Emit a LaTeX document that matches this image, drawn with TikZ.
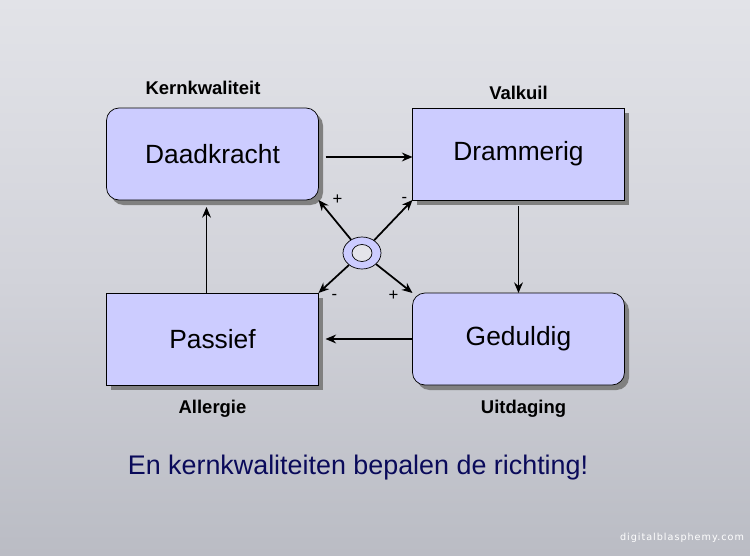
\documentclass[tikz,border=0pt]{standalone}
\usepackage{fontspec}
\setmainfont{Liberation Sans}
\newfontfamily\webfont[LetterSpace=10]{DejaVu Sans}
\usetikzlibrary{shapes.geometric, arrows.meta, positioning, shadows}

\definecolor{boxfill}{RGB}{204,204,255}
\definecolor{bgtop}{RGB}{226,227,232}
\definecolor{bgmid}{RGB}{210,211,218}
\definecolor{bgbot}{RGB}{186,188,196}
\definecolor{slogan}{RGB}{10,10,90}
\definecolor{hole}{RGB}{228,228,234}

\begin{document}
\begin{tikzpicture}[node distance=1.86cm and 1.88cm,
  quality/.style={rectangle, draw=black, fill=boxfill, minimum width=4.24cm, minimum height=1.84cm, outer sep=0pt, font=\fontsize{15}{17}\selectfont, drop shadow={shadow xshift=0.09cm, shadow yshift=-0.1cm, fill=black!50, opacity=1}},
  soft/.style={quality, rounded corners=0.25cm},
  caption/.style={inner sep=0pt, font=\bfseries\fontsize{10.5}{12}\selectfont},
  sign/.style={inner sep=0pt, font=\fontsize{9.5}{10}\selectfont},
  arrow/.style={line width=1pt, -{Stealth[length=6pt, width=5pt]}}]

% achtergrond
\shade[top color=bgtop, bottom color=bgbot, middle color=bgmid] (0,0) rectangle (15,11.1);
\useasboundingbox (0,0) rectangle (15,11.1);

\node[soft] (daad) at (4.25,8.02) {Daadkracht};
\node[quality, right=of daad] (dram) {Drammerig};
\node[quality, below=of daad] (pass) {Passief};
\node[soft, right=of pass] (gedu) {Geduldig};

\node[caption, above=0.26cm of daad, xshift=-0.19cm] (kern) {Kernkwaliteit};
\node[caption, above=0.16cm of dram] (valk) {Valkuil};
\node[caption, below=0.3cm of pass] (aller) {Allergie};
\node[caption, below=0.3cm of gedu, xshift=0.1cm] (uitd) {Uitdaging};

% ring in het midden
\node[ellipse, draw, fill=boxfill, minimum width=0.76cm, minimum height=0.64cm, inner sep=0pt] (ring) at (7.24,6.04) {};
\node[ellipse, draw, fill=hole, minimum width=0.4cm, minimum height=0.34cm, inner sep=0pt] (hole) at (ring) {};

\draw[arrow] ([xshift=0.14cm, yshift=-0.06cm]daad.east) -- ([yshift=-0.06cm]dram.west);
\draw[arrow] ([yshift=-0.12cm]dram.south) -- (gedu.north);
\draw[arrow] (gedu.west) -- ([xshift=0.14cm]pass.east);
\draw[arrow] ([xshift=-0.12cm]pass.north) -- ([xshift=-0.12cm, yshift=-0.14cm]daad.south);

\draw[arrow] (ring) -- (daad.south east);
\draw[arrow] (ring) -- (dram.south west);
\draw[arrow] (ring) -- (pass.north east);
\draw[arrow] (ring) -- (gedu.north west);

\node[sign] (plusa) at ([xshift=0.38cm]daad.south east) {+};
\node[sign] (mina) at ([xshift=-0.16cm]dram.south west) {-};
\node[sign] (minb) at ([xshift=0.32cm, yshift=-0.08cm]pass.north east) {-};
\node[sign] (plusb) at ([xshift=-0.38cm, yshift=-0.06cm]gedu.north west) {+};

\node[font=\fontsize{15.3}{18}\selectfont, text=slogan] (motto) at (7.16,1.74) {En kernkwaliteiten bepalen de richting!};
\node[font=\webfont\fontsize{5.5}{7}\selectfont, text=white] (web) at (13.64,0.34) {digitalblasphemy.com};

\end{tikzpicture}
\end{document}
